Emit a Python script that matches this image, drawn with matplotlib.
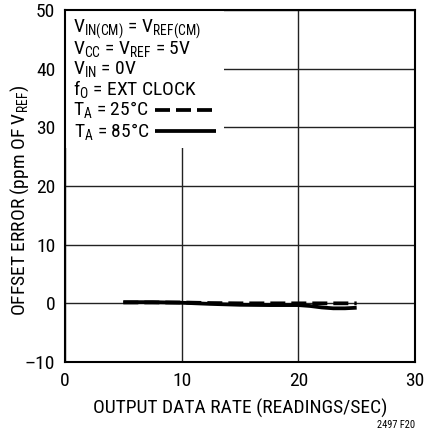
import matplotlib
matplotlib.use("Agg")
import matplotlib.pyplot as plt
from matplotlib import font_manager as fm

names = {f.name for f in fm.fontManager.ttflist}
fam = 'Liberation Sans'
for cand in ['Liberation Sans Narrow', 'Nimbus Sans Narrow', 'Arial Narrow', 'Roboto Condensed',
             'Archivo Narrow', 'PT Sans Narrow', 'Barlow Semi Condensed']:
    if cand in names:
        fam = cand
        break
plt.rcParams['font.family'] = [fam, 'DejaVu Sans']
plt.rcParams['mathtext.fontset'] = 'custom'
plt.rcParams['mathtext.rm'] = fam
plt.rcParams['mathtext.it'] = fam
plt.rcParams['mathtext.bf'] = fam

# data
rate_25 = [5, 7.5, 10, 12.5, 15, 17.5, 20, 22.5, 25]
err_25 = [0.15, 0.15, 0.15, 0.05, 0.0, 0.0, 0.0, 0.0, 0.0]
rate_85 = [5, 7.5, 10, 12.5, 15, 17.5, 20, 21, 22, 23, 24, 25]
err_85 = [0.2, 0.2, 0.1, -0.1, -0.25, -0.3, -0.3, -0.45, -0.7, -0.85, -0.85, -0.75]
xticks = [0, 10, 20, 30]
yticks = [-10, 0, 10, 20, 30, 40, 50]

fig = plt.figure(figsize=(4.25, 4.36), dpi=100)
ax = fig.add_axes([65/425, 1-362/436, 350/425, 352/436])
ax.set_xlim(0, 30)
ax.set_ylim(-10, 50)
ax.set_xticks(xticks)
ax.set_yticks(yticks)
ax.set_yticklabels(['\u201310' if v < 0 else str(v) for v in yticks])
ax.tick_params(axis='y', length=0, labelsize=14, pad=7)
ax.tick_params(axis='x', length=0, labelsize=14, pad=7)
ax.grid(True, color='#222222', linewidth=1.0)
ax.set_axisbelow(True)
for s in ax.spines.values():
    s.set_linewidth(1.5)
    s.set_color('black')

ax.plot(rate_85, err_85, color='black', linewidth=2.7, solid_capstyle='butt', zorder=3)
ax.plot(rate_25, err_25, color='black', linewidth=2.7, dashes=(4, 1.6), zorder=4)

# white box covering grid behind annotation
ax.add_patch(plt.Rectangle((0, 26.5), 13.6, 23.5, facecolor='white', edgecolor='none', zorder=2))

fs = 14
lines = [r'V$_{\mathrm{IN(CM)}}$ = V$_{\mathrm{REF(CM)}}$',
         r'V$_{\mathrm{CC}}$ = V$_{\mathrm{REF}}$ = 5V',
         r'V$_{\mathrm{IN}}$ = 0V',
         r'f$_{\mathrm{O}}$ = EXT CLOCK',
         r'T$_{\mathrm{A}}$ = 25°C',
         r'T$_{\mathrm{A}}$ = 85°C']
ys = [29, 49, 69, 89, 110, 131]
xs = [73, 73, 73, 73, 73, 74]
for t, x, y in zip(lines, xs, ys):
    fig.text(x/425, 1-y/436, t, fontsize=fs, va='center', ha='left', zorder=5)

fig.add_artist(plt.Line2D([155/425, 216/425], [1-110/436, 1-110/436], color='black', linewidth=2.7, dashes=(4, 1.6)))
fig.add_artist(plt.Line2D([155/425, 216/425], [1-131/436, 1-131/436], color='black', linewidth=2.7, solid_capstyle='butt'))

ax.set_xlabel('OUTPUT DATA RATE (READINGS/SEC)', fontsize=14, va='center')
ax.xaxis.set_label_coords(0.5, (362-408)/352)
ax.set_ylabel(r'OFFSET ERROR (ppm OF V$_{\mathrm{REF}}$)', fontsize=14, va='center')
ax.yaxis.set_label_coords((20-65)/350, (362-200)/352)
fig.text(415/425, 1-425/436, '2497 F20', fontsize=7.5, ha='right', va='center')

fig.savefig('out.png', dpi=100)
